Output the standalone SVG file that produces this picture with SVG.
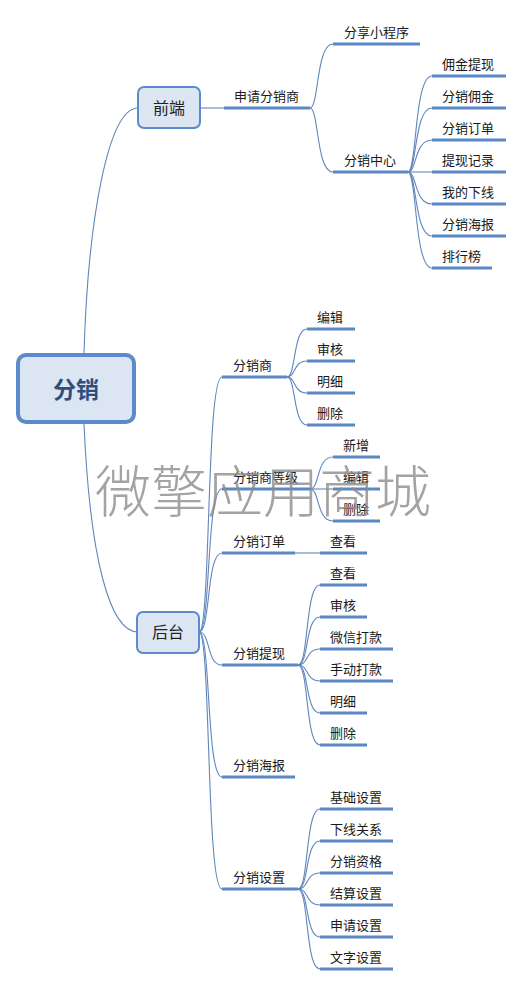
<svg xmlns="http://www.w3.org/2000/svg" width="529" height="986" viewBox="0 0 529 986">
<style>
.c{fill:none;stroke:#5f87bd;stroke-width:1.1}
.u{fill:none;stroke:#5a88c4;stroke-width:3.2;stroke-linecap:butt}
.t{font-family:"Noto Sans CJK SC","Noto Sans CJK JP",sans-serif;font-size:13px;fill:#1a1a1a}
.b{fill:#dce6f2;stroke:#5b8bcb;stroke-width:2}
</style>
<rect width="529" height="986" fill="#ffffff"/>
<g id="connectors">
<path class="c" d="M84 353 C88 220,108 108,138 108"/>
<path class="c" d="M84 424 C90 560,110 632,138 632"/>
<path class="c" d="M200 108 H224"/>
<path class="u" d="M224 108 H310"/>
<path class="c" d="M310 108 C319 108,316 44,333 44"/>
<path class="c" d="M310 108 C319 108,316 172,333 172"/>
<path class="u" d="M333 44 H420"/>
<path class="u" d="M333 172 H408"/>
<path class="c" d="M408 172 C417 172,414 76,432 76"/>
<path class="c" d="M408 172 C417 172,414 108,432 108"/>
<path class="c" d="M408 172 C417 172,414 140,432 140"/>
<path class="c" d="M408 172 H432"/>
<path class="c" d="M408 172 C417 172,414 204,432 204"/>
<path class="c" d="M408 172 C417 172,414 236,432 236"/>
<path class="c" d="M408 172 C417 172,414 268,432 268"/>
<path class="u" d="M432 76 H506 M432 108 H506 M432 140 H506 M432 172 H506 M432 204 H506 M432 236 H506 M432 268 H492"/>
<path class="c" d="M199 632 C211 632,206 377,222 377"/>
<path class="c" d="M199 632 C211 632,206 489,222 489"/>
<path class="c" d="M199 632 C211 632,206 553,222 553"/>
<path class="c" d="M199 632 C211 632,206 665,222 665"/>
<path class="c" d="M199 632 C211 632,206 777,222 777"/>
<path class="c" d="M199 632 C211 632,206 889,222 889"/>
<path class="u" d="M222 377 H287 M222 489 H310 M222 553 H295 M222 665 H298 M222 777 H295 M222 889 H298"/>
<path class="c" d="M287 377 C296 377,293 329,307 329"/>
<path class="c" d="M287 377 C296 377,293 361,307 361"/>
<path class="c" d="M287 377 C296 377,293 393,307 393"/>
<path class="c" d="M287 377 C296 377,293 425,307 425"/>
<path class="u" d="M307 329 H355 M307 361 H355 M307 393 H355 M307 425 H355"/>
<path class="c" d="M310 489 C320 489,316 457,333 457"/>
<path class="c" d="M310 489 H333"/>
<path class="c" d="M310 489 C320 489,316 521,333 521"/>
<path class="u" d="M333 457 H380 M333 489 H380 M333 521 H380"/>
<path class="c" d="M295 553 H320"/>
<path class="u" d="M320 553 H367"/>
<path class="c" d="M298 665 C309 665,305 585,320 585"/>
<path class="c" d="M298 665 C309 665,305 617,320 617"/>
<path class="c" d="M298 665 C309 665,305 649,320 649"/>
<path class="c" d="M298 665 C309 665,305 681,320 681"/>
<path class="c" d="M298 665 C309 665,305 713,320 713"/>
<path class="c" d="M298 665 C309 665,305 745,320 745"/>
<path class="u" d="M320 585 H367 M320 617 H367 M320 649 H393 M320 681 H393 M320 713 H367 M320 745 H367"/>
<path class="c" d="M298 889 C309 889,305 809,320 809"/>
<path class="c" d="M298 889 C309 889,305 841,320 841"/>
<path class="c" d="M298 889 C309 889,305 873,320 873"/>
<path class="c" d="M298 889 C309 889,305 905,320 905"/>
<path class="c" d="M298 889 C309 889,305 937,320 937"/>
<path class="c" d="M298 889 C309 889,305 969,320 969"/>
<path class="u" d="M320 809 H393 M320 841 H393 M320 873 H393 M320 905 H393 M320 937 H393 M320 969 H393"/>
</g>
<g id="root">
<rect x="18" y="355" width="116" height="67" rx="8" fill="#dce6f2" stroke="#5b8bcb" stroke-width="4"/>
<text x="76" y="398" text-anchor="middle" font-family="Noto Sans CJK SC,sans-serif" font-size="23" font-weight="bold" fill="#2e4e7e">分销</text>
</g>
<g id="qianduan">
<rect class="b" x="138" y="87" width="62" height="41" rx="6"/>
<text x="169" y="114" text-anchor="middle" font-family="Noto Sans CJK SC,sans-serif" font-size="16" fill="#222">前端</text>
</g>
<g id="houtai">
<rect class="b" x="137" y="612" width="62" height="41" rx="6"/>
<text x="168" y="638" text-anchor="middle" font-family="Noto Sans CJK SC,sans-serif" font-size="16" fill="#222">后台</text>
</g>
<g id="labels-front">
<text class="t" x="234" y="101">申请分销商</text>
<text class="t" x="344" y="37">分享小程序</text>
<text class="t" x="344" y="165">分销中心</text>
<text class="t" x="442" y="69">佣金提现</text>
<text class="t" x="442" y="101">分销佣金</text>
<text class="t" x="442" y="133">分销订单</text>
<text class="t" x="442" y="165">提现记录</text>
<text class="t" x="442" y="197">我的下线</text>
<text class="t" x="442" y="229">分销海报</text>
<text class="t" x="442" y="261">排行榜</text>
</g>
<g id="labels-back">
<text class="t" x="233" y="370">分销商</text>
<text class="t" x="233" y="482">分销商等级</text>
<text class="t" x="233" y="546">分销订单</text>
<text class="t" x="233" y="658">分销提现</text>
<text class="t" x="233" y="770">分销海报</text>
<text class="t" x="233" y="882">分销设置</text>
<text class="t" x="317" y="322">编辑</text>
<text class="t" x="317" y="354">审核</text>
<text class="t" x="317" y="386">明细</text>
<text class="t" x="317" y="418">删除</text>
<text class="t" x="343" y="450">新增</text>
<text class="t" x="343" y="482">编辑</text>
<text class="t" x="343" y="514">删除</text>
<text class="t" x="330" y="546">查看</text>
<text class="t" x="330" y="578">查看</text>
<text class="t" x="330" y="610">审核</text>
<text class="t" x="330" y="642">微信打款</text>
<text class="t" x="330" y="674">手动打款</text>
<text class="t" x="330" y="706">明细</text>
<text class="t" x="330" y="738">删除</text>
<text class="t" x="330" y="802">基础设置</text>
<text class="t" x="330" y="834">下线关系</text>
<text class="t" x="330" y="866">分销资格</text>
<text class="t" x="330" y="898">结算设置</text>
<text class="t" x="330" y="930">申请设置</text>
<text class="t" x="330" y="962">文字设置</text>
</g>
<text x="263" y="512" text-anchor="middle" font-family="Noto Sans CJK SC,sans-serif" font-size="56" font-weight="300" fill="#8c8c8c" fill-opacity="0.8" letter-spacing="0">微擎应用商城</text>
</svg>
